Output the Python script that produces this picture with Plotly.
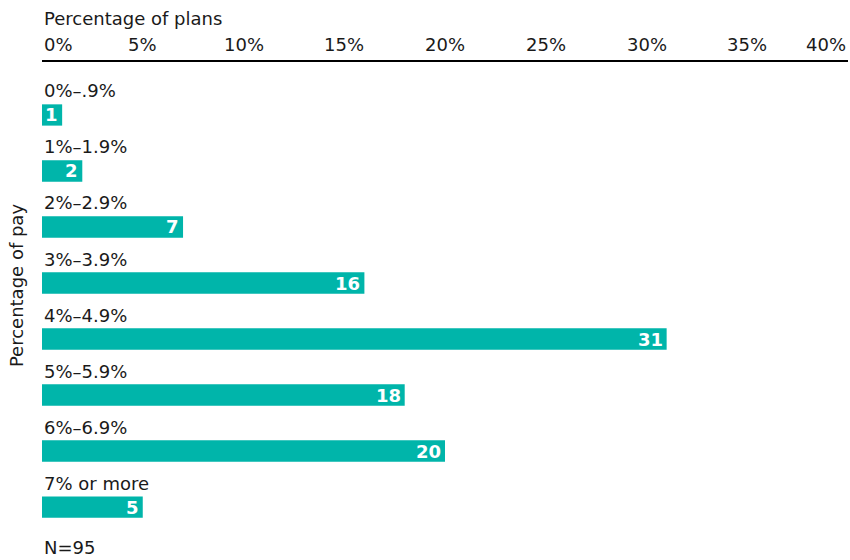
import plotly.graph_objects as go

# Distribution of plans by percentage of pay
categories = ["0%–.9%", "1%–1.9%", "2%–2.9%", "3%–3.9%", "4%–4.9%",
              "5%–5.9%", "6%–6.9%", "7% or more"]
values = [1, 2, 7, 16, 31, 18, 20, 5]
tick_values = [0, 5, 10, 15, 20, 25, 30, 35, 40]
tick_labels = ["0%", "5%", "10%", "15%", "20%", "25%", "30%", "35%", "40%"]
x_title = "Percentage of plans"
y_title = "Percentage of pay"
note = "N=95"

TEAL = "#00B5AA"
FONT = "DejaVu Sans"
SIZE = 18

positions = list(range(len(categories)))

fig = go.Figure(
    go.Bar(
        x=values,
        y=positions,
        orientation="h",
        width=0.38,
        marker=dict(color=TEAL, line=dict(width=0)),
        hoverinfo="skip",
    )
)

annotations = []

# category labels sit above each bar
for pos, cat in zip(positions, categories):
    annotations.append(dict(
        x=0, y=pos, xref="x", yref="y", text=cat, showarrow=False,
        xanchor="left", yanchor="middle", yshift=24,
        font=dict(family=FONT, size=SIZE, color="#1a1a1a"),
    ))

# value labels inside the bar ends
for pos, val in zip(positions, values):
    annotations.append(dict(
        x=val, y=pos, xref="x", yref="y", text=f"<b>{val}</b>", showarrow=False,
        xanchor="right", yanchor="middle", xshift=-2,
        font=dict(family=FONT, size=SIZE, color="white"),
    ))

# top axis tick labels (ends aligned inward)
for i, (tv, tl) in enumerate(zip(tick_values, tick_labels)):
    anchor = "left" if i == 0 else ("right" if i == len(tick_values) - 1 else "center")
    annotations.append(dict(
        x=tv, y=1, xref="x", yref="paper", text=tl, showarrow=False,
        xanchor=anchor, yanchor="middle", yshift=18,
        font=dict(family=FONT, size=SIZE, color="#1a1a1a"),
    ))

# axis titles and note
annotations.append(dict(
    x=0, y=1, xref="paper", yref="paper", text=x_title, showarrow=False,
    xanchor="left", yanchor="middle", yshift=44,
    font=dict(family=FONT, size=SIZE, color="#1a1a1a"),
))
annotations.append(dict(
    x=0, y=0.552, xref="paper", yref="paper", text=y_title, showarrow=False,
    xanchor="center", yanchor="middle", xshift=-26, textangle=-90,
    font=dict(family=FONT, size=SIZE, color="#1a1a1a"),
))
annotations.append(dict(
    x=0, y=0.026, xref="paper", yref="paper", text=note, showarrow=False,
    xanchor="left", yanchor="middle",
    font=dict(family=FONT, size=SIZE, color="#1a1a1a"),
))

fig.update_layout(
    width=850, height=560,
    margin=dict(l=42, r=2, t=62, b=0),
    paper_bgcolor="white", plot_bgcolor="white",
    showlegend=False,
    annotations=annotations,
    xaxis=dict(
        range=[0, 40], side="top", showticklabels=False, ticks="",
        showgrid=False, zeroline=False,
        showline=True, linecolor="black", linewidth=1.5,
    ),
    yaxis=dict(
        range=[7.946, -0.946], showticklabels=False, ticks="",
        showgrid=False, zeroline=False, showline=False,
    ),
)

fig.write_html("out.html")
